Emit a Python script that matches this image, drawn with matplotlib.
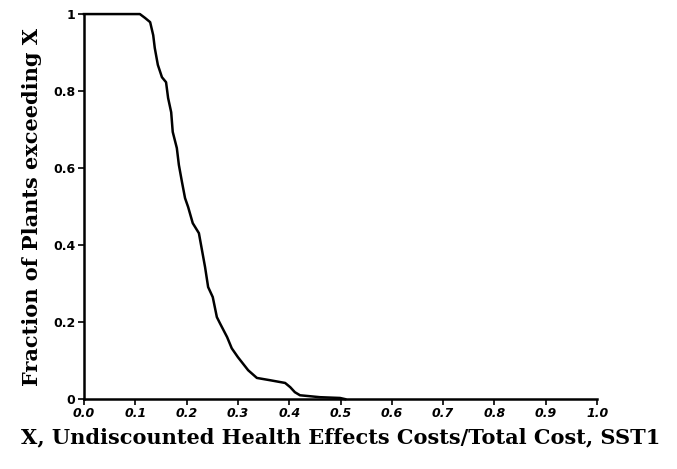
import numpy as np
import matplotlib.pyplot as plt

# fraction of plants whose cost ratio exceeds X
x_ratio = [0.0, 0.109, 0.119, 0.129, 0.135, 0.138, 0.144, 0.152, 0.160, 0.164,
           0.170, 0.173, 0.181, 0.185, 0.191, 0.197, 0.203, 0.212, 0.224,
           0.230, 0.236, 0.242, 0.251, 0.259, 0.265, 0.279, 0.288, 0.300,
           0.320, 0.337, 0.363, 0.392, 0.402, 0.411, 0.421, 0.460, 0.499, 0.509]
frac_exceed = [1.0, 1.0, 0.990, 0.979, 0.945, 0.912, 0.868, 0.836, 0.823, 0.782,
               0.745, 0.694, 0.652, 0.608, 0.564, 0.522, 0.499, 0.457, 0.431,
               0.387, 0.343, 0.291, 0.265, 0.213, 0.197, 0.161, 0.132, 0.109,
               0.075, 0.055, 0.049, 0.042, 0.031, 0.018, 0.010, 0.005, 0.003, 0.0]

x_ticks = [0.0, 0.1, 0.2, 0.3, 0.4, 0.5, 0.6, 0.7, 0.8, 0.9, 1.0]
x_tick_labels = ['0.0', '0.1', '0.2', '0.3', '0.4', '0.5', '0.6', '0.7', '0.8', '0.9', '1.0']
y_ticks = [0, 0.2, 0.4, 0.6, 0.8, 1.0]
y_tick_labels = ['0', '0.2', '0.4', '0.6', '0.8', '1']

fig = plt.figure(figsize=(6.77, 4.69), dpi=100)
ax = fig.add_axes([0.124, 0.149, 0.758, 0.821])

ax.plot(x_ratio, frac_exceed, color='black', linewidth=1.8, clip_on=False)

ax.set_xlim(0, 1.0)
ax.set_ylim(0, 1.0)
ax.spines['top'].set_visible(False)
ax.spines['right'].set_visible(False)
ax.spines['left'].set_linewidth(1.8)
ax.spines['bottom'].set_linewidth(1.8)

ax.set_xticks(x_ticks)
ax.set_xticklabels(x_tick_labels, fontsize=9, fontweight='bold', fontstyle='italic')
ax.set_yticks(y_ticks)
ax.set_yticklabels(y_tick_labels, fontsize=9, fontweight='bold')
ax.tick_params(axis='x', direction='out', length=4, width=1.2, pad=2)
ax.tick_params(axis='y', direction='out', length=4, width=1.2, pad=2)

ax.set_xlabel('X, Undiscounted Health Effects Costs/Total Cost, SST1',
              fontsize=15, fontweight='bold', family='DejaVu Serif', labelpad=5)
ax.set_ylabel('Fraction of Plants exceeding X',
              fontsize=15, fontweight='bold', family='DejaVu Serif', labelpad=8)

fig.savefig('out.png', dpi=100)
